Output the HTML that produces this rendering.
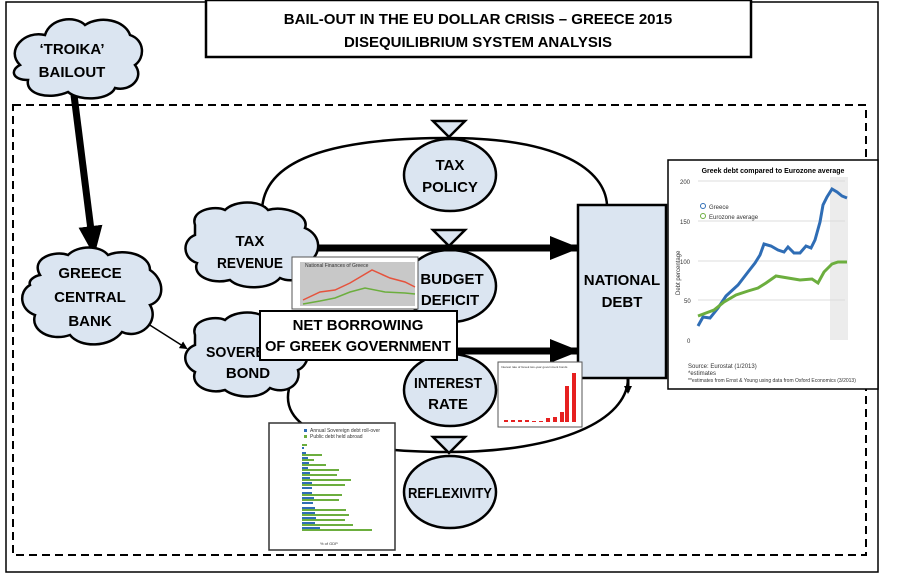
<!DOCTYPE html>
<html><head><meta charset="utf-8"><style>
body{margin:0;background:#fff;}
svg{display:block;font-family:"Liberation Sans",sans-serif;}
.t{font-weight:bold;font-size:15px;text-anchor:middle;fill:#000;}
.s{font-size:5px;fill:#333;}
</style></head><body>
<svg width="902" height="575" viewBox="0 0 902 575">
<defs>
<marker id="ah" markerWidth="8" markerHeight="8" refX="6" refY="4" orient="auto" markerUnits="userSpaceOnUse"><path d="M0,0 L8,4 L0,8z"/></marker>
<marker id="bh" markerWidth="30" markerHeight="24" refX="28" refY="12" orient="auto" markerUnits="userSpaceOnUse"><path d="M0,0 L30,12 L0,24z"/></marker>
</defs>
<rect x="6" y="2" width="872" height="570" fill="none" stroke="#000" stroke-width="1.5"/>
<rect x="206" y="0" width="545" height="57" fill="#fff" stroke="#000" stroke-width="2.5"/>
<text class="t" x="478" y="24">BAIL-OUT IN THE EU DOLLAR CRISIS – GREECE 2015</text>
<text class="t" x="478" y="47">DISEQUILIBRIUM SYSTEM ANALYSIS</text>
<rect x="13" y="105" width="853" height="450" fill="none" stroke="#000" stroke-width="2" stroke-dasharray="8,5"/>

<path d="M448,138 C330,138 262,160 262,212" fill="none" stroke="#000" stroke-width="2.5" marker-end="url(#ah)"/>
<path d="M448,138 C560,138 605,170 607,205" fill="none" stroke="#000" stroke-width="2.5"/>
<path d="M628,378 C628,420 560,452 448,452 C340,452 270,430 292,380" fill="none" stroke="#000" stroke-width="2.5" marker-end="url(#ah)"/>
<path d="M628,375 L628,392" stroke="#000" stroke-width="3" marker-end="url(#ah)"/>

<line x1="74" y1="95" x2="94" y2="254" stroke="#000" stroke-width="7" marker-end="url(#bh)"/>
<line x1="145" y1="322" x2="186" y2="348" stroke="#000" stroke-width="1.5" marker-end="url(#ah)"/>

<g fill="#dbe5f1" stroke="#000" stroke-width="2.5">
<path d="M20,65 C5,50 25,30 45,35 C50,18 75,15 85,25 C100,15 125,20 130,35 C145,40 145,58 135,65 C145,78 130,92 115,88 C110,100 80,102 68,92 C50,100 25,95 28,80 C12,80 10,70 20,65z"/>
<path d="M40,275 C30,258 55,250 68,255 C78,245 100,245 108,255 C125,248 150,255 150,270 C165,280 165,300 150,305 C160,322 140,340 122,332 C110,348 80,348 70,335 C50,342 30,330 35,315 C20,310 18,292 30,285 C28,280 35,276 40,275z"/>
<path d="M195,225 C190,210 215,205 225,210 C235,200 260,200 268,210 C285,205 310,215 305,228 C322,235 322,255 308,262 C315,275 295,285 280,278 C270,290 240,290 230,280 C210,285 192,275 197,263 C182,258 182,240 195,235z"/>
<path d="M195,335 C190,320 215,315 225,320 C235,310 260,310 268,320 C285,315 305,325 300,338 C312,345 310,365 298,370 C302,385 285,395 270,388 C260,400 235,398 225,390 C208,395 190,385 195,372 C182,365 182,350 195,345z"/>
</g>
<text class="t" x="72" y="54">‘TROIKA’</text><text class="t" x="72" y="77">BAILOUT</text>
<text class="t" x="90" y="278">GREECE</text><text class="t" x="90" y="302">CENTRAL</text><text class="t" x="90" y="326">BANK</text>
<text class="t" x="250" y="246">TAX</text><text class="t" x="250" y="268" textLength="66" lengthAdjust="spacingAndGlyphs">REVENUE</text>
<text class="t" x="248" y="357" textLength="84" lengthAdjust="spacingAndGlyphs">SOVEREIGN</text><text class="t" x="248" y="378">BOND</text>

<g fill="#dbe5f1" stroke="#000" stroke-width="2.5">
<ellipse cx="450" cy="175" rx="46" ry="36"/>
<ellipse cx="450" cy="286" rx="46" ry="36"/>
<ellipse cx="450" cy="390" rx="46" ry="36"/>
<ellipse cx="450" cy="492" rx="46" ry="36"/>
<path d="M433,121 L465,121 L449,137z"/>
<path d="M433,230 L465,230 L449,246z"/>
<path d="M433,437 L465,437 L449,453z"/>
</g>
<text class="t" x="450" y="170">TAX</text><text class="t" x="450" y="192">POLICY</text>
<text class="t" x="452" y="284">BUDGET</text><text class="t" x="450" y="305">DEFICIT</text>
<text class="t" x="448" y="388" textLength="68" lengthAdjust="spacingAndGlyphs">INTEREST</text><text class="t" x="448" y="409">RATE</text>
<text class="t" x="450" y="498" textLength="84" lengthAdjust="spacingAndGlyphs">REFLEXIVITY</text>

<line x1="318" y1="248" x2="578" y2="248" stroke="#000" stroke-width="7" marker-end="url(#bh)"/>
<line x1="455" y1="351" x2="578" y2="351" stroke="#000" stroke-width="7" marker-end="url(#bh)"/>

<rect x="578" y="205" width="88" height="173" fill="#dbe5f1" stroke="#000" stroke-width="2.5"/>
<text class="t" x="622" y="285">NATIONAL</text><text class="t" x="622" y="307">DEBT</text>

<rect x="292" y="257" width="126" height="52" fill="#fff" stroke="#555"/>
<rect x="300" y="262" width="115" height="44" fill="#c8c8c8"/>
<text class="s" x="305" y="267">National Finances of Greece</text>
<polyline points="303,300 320,292 335,290 350,283 372,270 390,278 405,282 415,287" fill="none" stroke="#e5533d" stroke-width="1.5"/>
<polyline points="303,304 320,301 335,298 350,292 365,288 385,292 405,293 415,294" fill="none" stroke="#6cae3e" stroke-width="1.5"/>

<rect x="260" y="311" width="197" height="49" fill="#fff" stroke="#000" stroke-width="2"/>
<text class="t" x="358" y="330">NET BORROWING</text>
<text class="t" x="358" y="351" textLength="186" lengthAdjust="spacingAndGlyphs">OF GREEK GOVERNMENT</text>

<rect x="498" y="362" width="84" height="65" fill="#fff" stroke="#555"/>
<text class="s" x="501" y="368" style="font-size:3px">Interest rate of Greek two-year government bonds</text>
<g fill="#e62020">
<rect x="504" y="420" width="4" height="2"/><rect x="511" y="420" width="4" height="2"/><rect x="518" y="420" width="4" height="2"/><rect x="525" y="420" width="4" height="2"/><rect x="532" y="421" width="4" height="1"/><rect x="539" y="421" width="4" height="1"/><rect x="546" y="418" width="4" height="4"/><rect x="553" y="417" width="4" height="5"/><rect x="560" y="412" width="4" height="10"/><rect x="565" y="386" width="4" height="36"/><rect x="572" y="373" width="4" height="49"/>
</g>

<rect x="269" y="423" width="126" height="127" fill="#fff" stroke="#333" stroke-width="1.5"/>
<rect x="304" y="429" width="3" height="3" fill="#2f6db5"/><text class="s" x="310" y="432">Annual Sovereign debt roll-over</text>
<rect x="304" y="435" width="3" height="3" fill="#6cae3e"/><text class="s" x="310" y="438">Public debt held abroad</text>
<g fill="#6cae3e">
<rect x="302" y="444" width="5" height="2"/><rect x="302" y="454" width="20" height="2"/><rect x="302" y="459" width="12" height="2"/><rect x="302" y="464" width="24" height="2"/><rect x="302" y="469" width="37" height="2"/><rect x="302" y="474" width="35" height="2"/><rect x="302" y="479" width="49" height="2"/><rect x="302" y="484" width="43" height="2"/><rect x="302" y="494" width="40" height="2"/><rect x="302" y="499" width="37" height="2"/><rect x="302" y="509" width="44" height="2"/><rect x="302" y="514" width="47" height="2"/><rect x="302" y="519" width="43" height="2"/><rect x="302" y="524" width="51" height="2"/><rect x="302" y="529" width="70" height="2"/>
</g>
<g fill="#2f6db5">
<rect x="302" y="447" width="2" height="2"/><rect x="302" y="452" width="4" height="2"/><rect x="302" y="457" width="6" height="2"/><rect x="302" y="462" width="7" height="2"/><rect x="302" y="467" width="6" height="2"/><rect x="302" y="472" width="8" height="2"/><rect x="302" y="477" width="8" height="2"/><rect x="302" y="482" width="10" height="2"/><rect x="302" y="487" width="10" height="2"/><rect x="302" y="492" width="10" height="2"/><rect x="302" y="497" width="12" height="2"/><rect x="302" y="502" width="11" height="2"/><rect x="302" y="507" width="13" height="2"/><rect x="302" y="512" width="13" height="2"/><rect x="302" y="517" width="14" height="2"/><rect x="302" y="522" width="13" height="2"/><rect x="302" y="527" width="18" height="2"/>
</g>
<text class="s" x="320" y="545" style="font-size:4px">% of GDP</text>

<rect x="668" y="160" width="210" height="229" fill="#fff" stroke="#000" stroke-width="1.5"/>
<text x="773" y="173" style="font-size:7px;font-weight:bold;text-anchor:middle">Greek debt compared to Eurozone average</text>
<rect x="830" y="177" width="18" height="163" fill="#ececec"/>
<g stroke="#ddd" stroke-width="1">
<line x1="698" y1="181" x2="845" y2="181"/><line x1="698" y1="221" x2="845" y2="221"/><line x1="698" y1="261" x2="845" y2="261"/><line x1="698" y1="300" x2="845" y2="300"/>
</g>
<g style="font-size:6px" fill="#333">
<text x="680" y="184">200</text><text x="680" y="224">150</text><text x="680" y="264">100</text><text x="684" y="303">50</text><text x="687" y="343">0</text>
<text x="709" y="209">Greece</text><text x="709" y="219">Eurozone average</text>
<text x="688" y="368">Source: Eurostat (1/2013)</text>
<text x="688" y="375">*estimates</text>
<text x="688" y="382" style="font-size:5px">**estimates from Ernst &amp; Young using data from Oxford Economics (3/2013)</text>
</g>
<text x="680" y="295" transform="rotate(-90 680 295)" style="font-size:6px" fill="#333">Debt percentage</text>
<circle cx="703" cy="206" r="2.5" fill="none" stroke="#2f6db5"/>
<circle cx="703" cy="216" r="2.5" fill="none" stroke="#6cae3e"/>
<polyline points="698,326 703,317 710,318 718,308 726,296 738,285 748,272 755,263 760,255 764,244 771,246 778,250 784,252 788,247 794,253 800,253 806,246 811,248 815,240 820,222 823,205 827,197 832,189 837,192 842,196 847,198" fill="none" stroke="#2f6db5" stroke-width="3"/>
<polyline points="698,316 706,313 714,310 724,302 736,295 748,291 758,288 766,283 776,276 788,278 800,280 812,279 818,283 824,272 832,264 838,262 847,262" fill="none" stroke="#6cae3e" stroke-width="3"/>
</svg>
</body></html>
